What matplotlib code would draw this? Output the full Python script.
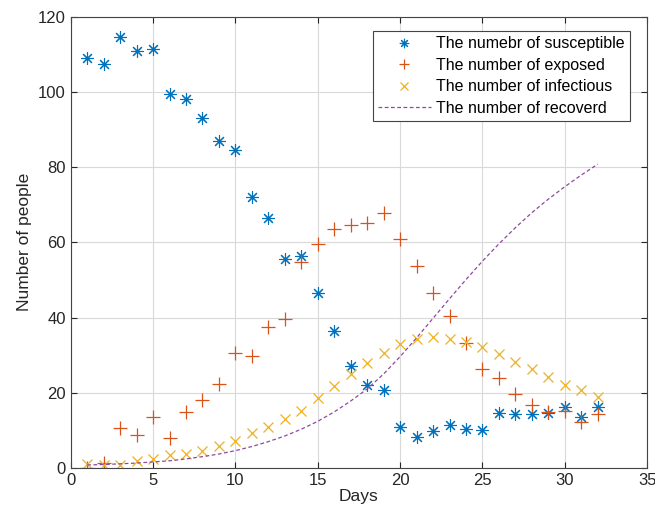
import matplotlib
matplotlib.use('Agg')
import matplotlib.pyplot as plt

plt.rcParams['font.family'] = ['Liberation Sans', 'DejaVu Sans']

days = list(range(1, 33))

susceptible = [109, 107.5, 114.5, 111, 111.3, 99.5, 98, 93, 87, 84.5,
               72, 66.5, 55.5, 56.5, 46.5, 36.5, 27.1, 22, 20.7, 11,
               8.2, 9.7, 11.3, 10.4, 10.1, 14.7, 14.4, 14.4, 14.7, 16.1,
               13.5, 16.1]
exposed = [0, 1.2, 10.5, 8.8, 13.6, 7.9, 14.8, 18.1, 22.3, 30.7,
           29.8, 37.4, 39.7, 54.9, 59.6, 63.5, 64.6, 65.2, 67.9, 60.8,
           53.7, 46.5, 40.5, 33.3, 26.2, 23.9, 19.7, 16.8, 14.9, 15.1,
           12.2, 14.3]
infectious = [1.0, 0.9, 0.7, 1.9, 2.4, 3.5, 3.8, 4.6, 5.8, 7.2,
              9.3, 10.9, 13.1, 15.1, 18.5, 21.8, 25.1, 28, 30.5, 32.9,
              34.2, 34.8, 34.4, 33.6, 32.1, 30.2, 28.3, 26.2, 24.1, 22.1,
              20.6, 18.8]
recovered = [0.8, 0.9, 1.1, 1.3, 1.6, 1.9, 2.4, 3.0, 3.7, 4.6,
             5.7, 7.0, 8.5, 10.3, 12.4, 14.9, 17.8, 21.0, 25.0, 29.6,
             34.6, 39.8, 45.0, 50.1, 55.0, 59.6, 63.9, 67.9, 71.5, 74.8,
             77.9, 80.8]

labels = ['The numebr of susceptible', 'The number of exposed',
          'The number of infectious', 'The number of recoverd']

fig = plt.figure(figsize=(6.55, 5.24), dpi=100)
ax = fig.add_axes([0.108, 0.107, 0.88, 0.861])

ax.plot(days, susceptible, linestyle='none', marker=(8, 2, 0), markersize=9,
        markeredgewidth=0.8, color='#0072BD', label=labels[0])
ax.plot(days, exposed, linestyle='none', marker='+', markersize=10,
        markeredgewidth=0.9, color='#D95319', label=labels[1])
ax.plot(days, infectious, linestyle='none', marker='x', markersize=7,
        markeredgewidth=0.9, color='#EDB120', label=labels[2])
ax.plot(days, recovered, linestyle=(0, (3, 2)), linewidth=0.9,
        color='#8E4A9E', label=labels[3])

ax.set_xlim(0, 35)
ax.set_ylim(0, 120)
ax.set_xticks(range(0, 36, 5))
ax.set_yticks(range(0, 121, 20))
ax.grid(True, color='#d9d9d9', linewidth=0.8)
ax.set_axisbelow(True)
for s in ax.spines.values():
    s.set_color('#444444')
    s.set_linewidth(0.8)
ax.tick_params(direction='in', top=True, right=True, length=4,
               labelsize=12, colors='#262626', width=0.8)

ax.set_xlabel('Days', fontsize=12.5, color='#262626', labelpad=1)
ax.set_ylabel('Number of people', fontsize=12.5, color='#262626')

leg = ax.legend(loc='upper right', bbox_to_anchor=(0.970, 0.969),
                borderaxespad=0, fontsize=11.5, handlelength=3.3,
                fancybox=False, framealpha=1, edgecolor='#444444',
                borderpad=0.35, labelspacing=0.4, handletextpad=0.3,
                markerscale=0.75)
leg.get_frame().set_linewidth(0.8)

fig.savefig('out.png', dpi=100)
